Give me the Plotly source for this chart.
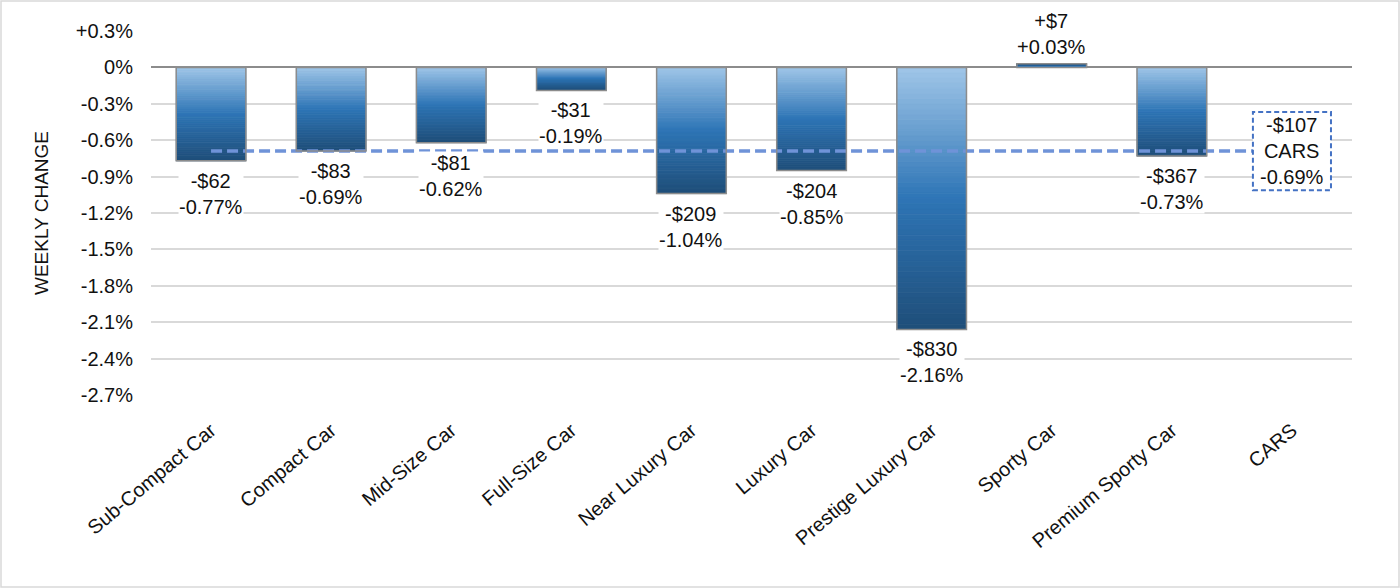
import plotly.graph_objects as go

categories = ["Sub-Compact Car", "Compact Car", "Mid-Size Car", "Full-Size Car",
              "Near Luxury Car", "Luxury Car", "Prestige Luxury Car", "Sporty Car",
              "Premium Sporty Car", "CARS"]
pct_change = [-0.77, -0.69, -0.62, -0.19, -1.04, -0.85, -2.16, 0.03, -0.73, None]
dollar_change = [-62, -83, -81, -31, -209, -204, -830, 7, -367, -107]
cars_pct = -0.69
cars_dollar = -107
tick_vals = [0.3, 0.0, -0.3, -0.6, -0.9, -1.2, -1.5, -1.8, -2.1, -2.4, -2.7]
tick_text = ["+0.3%", "0%", "-0.3%", "-0.6%", "-0.9%", "-1.2%", "-1.5%", "-1.8%",
             "-2.1%", "-2.4%", "-2.7%"]

FONT = "Liberation Sans, Arial, sans-serif"
TXT = "#111111"
stops = [(0.0, (160, 198, 232)), (0.5, (46, 117, 182)), (1.0, (31, 78, 121))]


def grad(t):
    for (t0, c0), (t1, c1) in zip(stops[:-1], stops[1:]):
        if t <= t1:
            f = (t - t0) / (t1 - t0)
            return "rgb(%d,%d,%d)" % tuple(round(a + (b - a) * f) for a, b in zip(c0, c1))
    return "rgb(%d,%d,%d)" % stops[-1][1]


bar_vals = pct_change[:-1]
bar_cats = categories[:-1]
N = 50
fig = go.Figure()
for i in range(N):
    col = grad((i + 0.5) / N)
    fig.add_trace(go.Bar(
        x=bar_cats, y=[v / N for v in bar_vals],
        marker=dict(color=col, line=dict(width=0.8, color=col)),
        hoverinfo="skip", showlegend=False))

# outline of each bar
fig.add_trace(go.Bar(
    x=bar_cats, y=bar_vals, xaxis="x2",
    marker=dict(color="rgba(0,0,0,0)", line=dict(color="#8c8c8c", width=1.5)),
    showlegend=False, hoverinfo="skip"))

# CARS average dashed line
fig.add_trace(go.Scatter(
    x=[categories[0], categories[-1]], y=[cars_pct, cars_pct], mode="lines",
    line=dict(color="#6f93d8", width=3.5, dash="11px,5px"), showlegend=False,
    hoverinfo="skip"))


def fmt_d(d):
    return ("+$%d" % d) if d > 0 else ("-$%d" % abs(d))


def fmt_p(p):
    return ("+%.2f%%" % p) if p > 0 else ("%.2f%%" % p)


annotations = []
for c, p, d in zip(bar_cats, bar_vals, dollar_change):
    annotations.append(dict(
        x=c, y=p, xref="x", yref="y", showarrow=False,
        text=fmt_d(d) + "<br>" + fmt_p(p),
        yanchor="top" if p < 0 else "bottom",
        yshift=-8 if p < 0 else 5,
        bgcolor="white", borderpad=0,
        font=dict(family=FONT, size=20, color=TXT)))

annotations.append(dict(
    x=categories[-1], y=cars_pct, xref="x", yref="y", showarrow=False,
    text=fmt_d(cars_dollar) + "<br>CARS<br>" + fmt_p(cars_pct),
    font=dict(family=FONT, size=20, color=TXT)))

cars_idx = len(categories) - 1
box_half_w = 0.325
box_half_h = 0.322
x_range = [-0.5, len(categories) - 0.5]

fig.update_layout(
    width=1400, height=588,
    margin=dict(l=151, r=48, t=31, b=193),
    paper_bgcolor="white", plot_bgcolor="white",
    barmode="relative", bargap=0.42,
    font=dict(family=FONT, size=20, color=TXT),
    xaxis=dict(categoryorder="array", categoryarray=categories, tickangle=-40,
               range=x_range, autorange=False,
               showgrid=False, showline=False, ticks="", zeroline=False,
               ticklabelstandoff=19,
               tickfont=dict(size=20, color=TXT)),
    xaxis2=dict(overlaying="x", matches="x", visible=False, range=x_range,
                categoryorder="array", categoryarray=categories),
    yaxis=dict(range=[-2.7, 0.3], tickvals=tick_vals, ticktext=tick_text,
               showgrid=True, gridcolor="#d9d9d9", gridwidth=1.5,
               zeroline=True, zerolinecolor="#8c8c8c", zerolinewidth=1.5,
               showline=False, ticks="", ticklabelstandoff=17,
               tickfont=dict(size=20, color=TXT),
               title=dict(text="WEEKLY CHANGE", font=dict(size=19, color=TXT),
                          standoff=22)),
    annotations=annotations,
    shapes=[
        dict(type="rect", xref="x", yref="y", layer="above",
             x0=cars_idx - box_half_w, x1=cars_idx + box_half_w,
             y0=cars_pct - box_half_h, y1=cars_pct + box_half_h,
             line=dict(color="#4472c4", width=2, dash="5px,3px"), fillcolor="white"),
        dict(type="rect", xref="paper", yref="paper",
             x0=(1 - 151) / 1201, x1=(1399 - 151) / 1201,
             y0=-192 / 364, y1=394 / 364,
             line=dict(color="#d9d9d9", width=1.5), fillcolor="rgba(0,0,0,0)"),
    ],
)

fig.write_html("out.html", config={"displayModeBar": False},
               post_script="document.body.style.margin='0';document.body.style.overflow='hidden';")
